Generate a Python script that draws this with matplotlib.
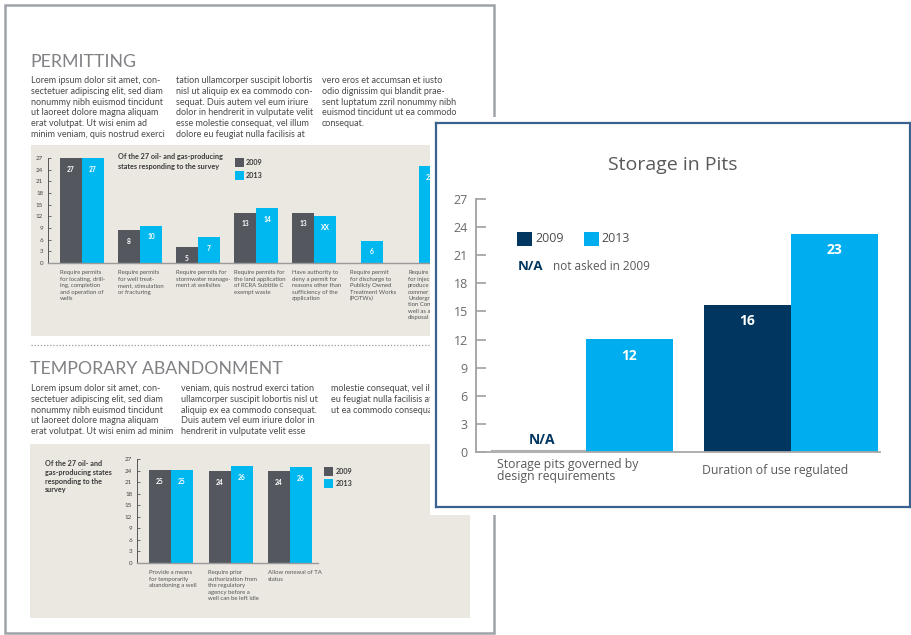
import numpy as np
import matplotlib
matplotlib.use("Agg")
import matplotlib.pyplot as plt
from matplotlib.patches import Rectangle

# ---------------- DATA ----------------
permit_categories = [
    "Require permits\nfor locating, drill-\ning, completion\nand operation of\nwells",
    "Require permits\nfor well treat-\nment, stimulation\nor fracturing",
    "Require permits for\nstormwater manage-\nment at wellsites",
    "Require permits for\nthe land application\nof RCRA Subtitle C\nexempt waste",
    "Have authority to\ndeny a permit for\nreasons other than\nsufficiency of the\napplication",
    "Require permit\nfor discharge to\nPublicly Owned\nTreatment Works\n(POTWs)",
    "Require\nfor injec\nproduce\ncommer\nUndergr\ntion Con\nwell as a\ndisposal",
]
permit_2009 = [27, 8.5, 4.1, 12.9, 12.9, np.nan, np.nan]
permit_2013 = [27, 9.6, 6.7, 14.1, 12.1, 5.7, 24.9]
permit_2009_labels = ["27", "8", "5", "13", "13", "", ""]
permit_2013_labels = ["27", "10", "7", "14", "XX", "6", "25"]

ta_categories = [
    "Provide a means\nfor temporarily\nabandoning a well",
    "Require prior\nauthorization from\nthe regulatory\nagency before a\nwell can be left idle",
    "Allow renewal of TA\nstatus",
]
ta_2009 = [24.1, 23.9, 23.9]
ta_2013 = [24.1, 25.2, 24.9]
ta_2009_labels = ["25", "24", "24"]
ta_2013_labels = ["25", "26", "26"]

pits_categories = ["Storage pits governed by\ndesign requirements", "Duration of use regulated"]
pits_2009 = [np.nan, 15.7]
pits_2013 = [12.05, 23.3]
pits_2009_labels = ["N/A", "16"]
pits_2013_labels = ["12", "23"]

series_names = ["2009", "2013"]
y_ticks = [0, 3, 6, 9, 12, 15, 18, 21, 24, 27]

body_permit = [
    ["Lorem ipsum dolor sit amet, con-", "sectetuer adipiscing elit, sed diam",
     "nonummy nibh euismod tincidunt", "ut laoreet dolore magna aliquam",
     "erat volutpat. Ut wisi enim ad", "minim veniam, quis nostrud exerci"],
    ["tation ullamcorper suscipit lobortis", "nisl ut aliquip ex ea commodo con-",
     "sequat. Duis autem vel eum iriure", "dolor in hendrerit in vulputate velit",
     "esse molestie consequat, vel illum", "dolore eu feugiat nulla facilisis at"],
    ["vero eros et accumsan et iusto", "odio dignissim qui blandit prae-",
     "sent luptatum zzril nonummy nibh", "euismod tincidunt ut ea commodo",
     "consequat."],
]
body_ta = [
    ["Lorem ipsum dolor sit amet, con-", "sectetuer adipiscing elit, sed diam",
     "nonummy nibh euismod tincidunt", "ut laoreet dolore magna aliquam",
     "erat volutpat. Ut wisi enim ad minim"],
    ["veniam, quis nostrud exerci tation", "ullamcorper suscipit lobortis nisl ut",
     "aliquip ex ea commodo consequat.", "Duis autem vel eum iriure dolor in",
     "hendrerit in vulputate velit esse"],
    ["molestie consequat, vel ill", "eu feugiat nulla facilisis at",
     "ut ea commodo consequa"],
]

# ---------------- STYLE ----------------
W, H = 911, 635
PAGE_FONT = ["Lato", "DejaVu Sans"]
OV_FONT = ["Open Sans", "DejaVu Sans"]
DARK = "#54585e"
CYAN = "#00b8f0"
NAVY = "#00365f"
OCYAN = "#00aeef"
BEIGE = "#ebe8e1"
TXT = "#4a4a4c"

fig = plt.figure(figsize=(W / 100, H / 100), dpi=100)
fig.patch.set_facecolor("white")


def ax_px(x0, y0, x1, y1, z=1):
    a = fig.add_axes([x0 / W, 1 - y1 / H, (x1 - x0) / W, (y1 - y0) / H])
    a.set_zorder(z)
    return a


# page canvas
page = fig.add_axes([0, 0, 1, 1])
page.set_xlim(0, W)
page.set_ylim(H, 0)
page.axis("off")
page.set_zorder(0)

page.add_patch(Rectangle((5, 4.5), 489, 628.5, fill=False, ec="#9ea3a8", lw=1.8))
page.add_patch(Rectangle((31, 145), 420, 191, fc=BEIGE, ec="none"))
page.add_patch(Rectangle((30, 444), 440, 174, fc=BEIGE, ec="none"))
page.plot([31, 430], [345, 345], color="#9a9a9a", lw=0.9, ls=(0, (1, 1.5)))

page.text(30, 67, "PERMITTING", family=PAGE_FONT, fontsize=12.8, weight="normal",
          color="#808285", va="baseline", ha="left")
page.text(30, 374, "TEMPORARY ABANDONMENT", family=PAGE_FONT, fontsize=12.8, weight="normal",
          color="#808285", va="baseline", ha="left")


def body(cols, xs, y0):
    for col, x in zip(cols, xs):
        for i, line in enumerate(col):
            page.text(x, y0 + i * 10.8, line, family=PAGE_FONT, fontsize=6.5,
                      color=TXT, va="baseline", ha="left")


body(body_permit, [31, 176, 322], 83)
body(body_ta, [31, 181, 331], 391)

# top chart legend
page.text(118, 162, "Of the 27 oil- and gas-producing\nstates responding to the survey",
          family=PAGE_FONT, fontsize=5.2, weight="bold", color="#3a3a3a",
          va="center", ha="left", linespacing=1.5)
page.add_patch(Rectangle((235, 158), 8.5, 8.5, fc=DARK, ec="none"))
page.add_patch(Rectangle((235, 171), 8.5, 8.5, fc=CYAN, ec="none"))
page.text(246, 162.5, series_names[0], family=PAGE_FONT, fontsize=5.2, weight="bold",
          color="#3a3a3a", va="center")
page.text(246, 175.5, series_names[1], family=PAGE_FONT, fontsize=5.2, weight="bold",
          color="#3a3a3a", va="center")

# bottom chart legend
page.text(45, 460, "Of the 27 oil- and\ngas-producing states\nresponding to the\nsurvey",
          family=PAGE_FONT, fontsize=5.2, weight="bold", color="#3a3a3a",
          va="top", ha="left", linespacing=1.3)
page.add_patch(Rectangle((324, 467), 9, 9, fc=DARK, ec="none"))
page.add_patch(Rectangle((324, 479), 9, 9, fc=CYAN, ec="none"))
page.text(336, 471.5, series_names[0], family=PAGE_FONT, fontsize=5.2, weight="bold",
          color="#3a3a3a", va="center")
page.text(336, 483.5, series_names[1], family=PAGE_FONT, fontsize=5.2, weight="bold",
          color="#3a3a3a", va="center")


def page_chart(ax, cats, v09, v13, l09, l13, spacing_px, bar_px, x_first_px,
               x0_px, x1_px, label_gap):
    n = len(cats)
    x = np.arange(n)
    w = bar_px / spacing_px
    ax.set_xlim((x0_px - x_first_px) / spacing_px, (x1_px - x_first_px) / spacing_px)
    ax.set_ylim(0, 27)
    ax.set_facecolor("none")
    for i in range(n):
        has09 = not np.isnan(v09[i])
        if has09:
            ax.bar(x[i] - w / 2, v09[i], w, color=DARK, zorder=2)
            ax.annotate(l09[i], (x[i] - w / 2, v09[i]), xytext=(0, -label_gap),
                        textcoords="offset points", ha="center", va="center",
                        color="white", fontsize=4.8, family=PAGE_FONT, weight="bold")
            xc = x[i] + w / 2
        else:
            xc = x[i]
        ax.bar(xc, v13[i], w, color=CYAN, zorder=2)
        ax.annotate(l13[i], (xc, v13[i]), xytext=(0, -label_gap),
                    textcoords="offset points", ha="center", va="center",
                    color="white", fontsize=4.8, family=PAGE_FONT, weight="bold")
        ax.text(x[i] - w, -1.9, cats[i], ha="left", va="top", fontsize=4.3,
                family=PAGE_FONT, color="#555555", linespacing=1.35,
                clip_on=False)
    for s in ["top", "right"]:
        ax.spines[s].set_visible(False)
    ax.spines["left"].set_color("#555555")
    ax.spines["left"].set_linewidth(0.7)
    ax.spines["bottom"].set_color("#9a9a9a")
    ax.spines["bottom"].set_linewidth(1.0)
    ax.set_yticks(y_ticks)
    ax.set_yticklabels([str(t) for t in y_ticks], family=PAGE_FONT, fontsize=4.5,
                       color="#444444")
    ax.tick_params(axis="y", direction="in", length=2.5, width=0.6, pad=3.5,
                   colors="#555555", labelcolor="#444444")
    ax.set_xticks([])


ax1 = ax_px(48, 158, 470, 263, z=1)
page_chart(ax1, permit_categories, permit_2009, permit_2013,
           permit_2009_labels, permit_2013_labels, 58, 22, 82, 48, 470, 8)

ax2 = ax_px(137, 459, 318, 563, z=1)
page_chart(ax2, ta_categories, ta_2009, ta_2013,
           ta_2009_labels, ta_2013_labels, 59.5, 22, 171, 137, 318, 8)

# overlay white mask + border
mask = ax_px(430, 117, 911, 515, z=5)
mask.set_xlim(0, 1)
mask.set_ylim(0, 1)
mask.set_facecolor("white")
for s in mask.spines.values():
    s.set_visible(False)
mask.set_xticks([])
mask.set_yticks([])

frame = ax_px(436, 123, 910, 507, z=6)
frame.set_facecolor("white")
frame.set_xticks([])
frame.set_yticks([])
for s in frame.spines.values():
    s.set_color("#3a6290")
    s.set_linewidth(1.6)

ovt = ax_px(0, 0, W, H, z=7)
ovt.set_xlim(0, W)
ovt.set_ylim(H, 0)
ovt.axis("off")
ovt.set_facecolor("none")
ovt.text(673, 165, "Storage in Pits", family=OV_FONT, fontsize=14, color="#59595b",
         ha="center", va="center")
ovt.add_patch(Rectangle((517, 232), 15, 13.5, fc=NAVY, ec="none"))
ovt.add_patch(Rectangle((584, 232), 14.5, 13.5, fc=OCYAN, ec="none"))
ovt.text(535, 239, series_names[0], family=OV_FONT, fontsize=9, color="#4d4d4f", va="center")
ovt.text(601, 239, series_names[1], family=OV_FONT, fontsize=9, color="#4d4d4f", va="center")
ovt.text(518, 267, "N/A", family=OV_FONT, fontsize=9.5, weight="bold", color=NAVY, va="center")
ovt.text(553, 267, "not asked in 2009", family=OV_FONT, fontsize=8.5, color="#59595b",
         va="center")

ax3 = ax_px(476, 199, 880, 452, z=8)
ax3.set_facecolor("none")
sp, bw, xf = 205.0, 87.0, 586.0
w3 = bw / sp
ax3.set_xlim((476 - xf) / sp, (880 - xf) / sp)
ax3.set_ylim(0, 27)
xs = np.arange(len(pits_categories))
for i in range(len(xs)):
    if not np.isnan(pits_2009[i]):
        ax3.bar(xs[i] - w3 / 2, pits_2009[i], w3, color=NAVY, zorder=2)
        ax3.annotate(pits_2009_labels[i], (xs[i] - w3 / 2, pits_2009[i]), xytext=(0, -11.5),
                     textcoords="offset points", ha="center", va="center", color="white",
                     fontsize=10, weight="bold", family=OV_FONT)
    else:
        ax3.plot([xs[i] - w3 - 0.04, xs[i]], [0.06, 0.06], color="#b0b0b0", lw=1.5,
                 zorder=3, solid_capstyle="butt")
        ax3.annotate(pits_2009_labels[i], (xs[i] - w3 / 2, 0), xytext=(0, 9),
                     textcoords="offset points", ha="center", va="center", color=NAVY,
                     fontsize=10, weight="bold", family=OV_FONT)
    ax3.bar(xs[i] + w3 / 2, pits_2013[i], w3, color=OCYAN, zorder=2)
    ax3.annotate(pits_2013_labels[i], (xs[i] + w3 / 2, pits_2013[i]), xytext=(0, -12),
                 textcoords="offset points", ha="center", va="center", color="white",
                 fontsize=10, weight="bold", family=OV_FONT)
    ax3.text(xs[i] - w3 - 0.01, -1.95, pits_categories[i], ha="left", va="center",
             fontsize=8.8, family=OV_FONT, color="#59595b", linespacing=0.95,
             clip_on=False)
for s in ["top", "right"]:
    ax3.spines[s].set_visible(False)
ax3.spines["left"].set_color("#a0a0a0")
ax3.spines["left"].set_linewidth(1.3)
ax3.spines["bottom"].set_color("#a8a8a8")
ax3.spines["bottom"].set_linewidth(1.3)
ax3.set_yticks(y_ticks)
ax3.set_yticklabels([str(t) for t in y_ticks], family=OV_FONT, fontsize=9)
ax3.tick_params(axis="y", direction="in", length=7, width=1.2, pad=6,
                colors="#a0a0a0", labelcolor="#6a6a6a")
ax3.set_xticks([])

fig.savefig("out.png", dpi=100, facecolor="white")
